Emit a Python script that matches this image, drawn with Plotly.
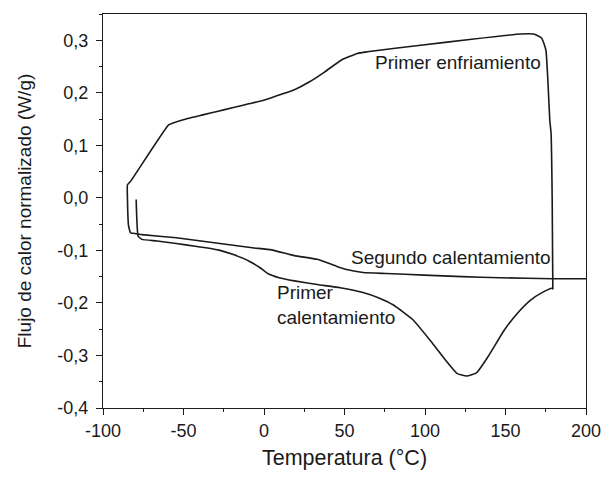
import plotly.graph_objects as go

# Primer calentamiento (first heating)
heat1_T = [-79.4, -79.0, -78.2, -75.8, -66.4, -54.5, -42.7, -28.5, -19.0, -9.5, -2.4, 2.3, 9.4, 18.9,
           33.1, 47.3, 61.5, 71.0, 80.4, 92.5, 104.7, 112.8, 119.8, 125.9, 132.0, 139.0, 149.2,
           157.3, 165.4, 173.5, 178.7, 179.4]
heat1_Q = [-0.003, -0.04, -0.073, -0.079, -0.082, -0.087, -0.092, -0.099, -0.108, -0.120, -0.133,
           -0.144, -0.152, -0.158, -0.165, -0.171, -0.180, -0.190, -0.204, -0.232, -0.277, -0.309,
           -0.334, -0.339, -0.333, -0.303, -0.252, -0.220, -0.195, -0.179, -0.172, -0.174]

# Primer enfriamiento (first cooling)
cool_T = [179.4, 179.0, 178.3, 177.5, 176.5, 175.1, 172.5, 167.4, 159.4, 129.0, 98.6, 64.1, 58.0,
          47.9, 37.8, 28.3, 18.9, 9.4, -0.1, -9.5, -19.0, -28.5, -38.0, -47.4, -56.9, -59.3, -83.0,
          -84.8, -84.8, -84.1, -83.0]
cool_Q = [-0.174, -0.003, 0.123, 0.148, 0.212, 0.281, 0.304, 0.312, 0.312, 0.302, 0.291, 0.278,
          0.275, 0.262, 0.240, 0.221, 0.206, 0.196, 0.186, 0.179, 0.172, 0.165, 0.158, 0.151, 0.142,
          0.139, 0.031, 0.025, -0.003, -0.054, -0.067]

# Segundo calentamiento (second heating)
heat2_T = [-83.0, -75.8, -54.5, -30.9, -7.2, 4.7, 18.9, 33.1, 44.9, 52.0, 61.5, 75.7, 99.4, 123.0,
           146.7, 179.4, 200.0]
heat2_Q = [-0.067, -0.070, -0.076, -0.0855, -0.095, -0.099, -0.110, -0.117, -0.130, -0.137, -0.142,
           -0.144, -0.147, -0.150, -0.152, -0.154, -0.154]

x_ticks = [-100, -50, 0, 50, 100, 150, 200]
x_ticklabels = ["-100", "-50", "0", "50", "100", "150", "200"]
y_ticks = [-0.4, -0.3, -0.2, -0.1, 0.0, 0.1, 0.2, 0.3]
y_ticklabels = ["-0,4", "-0,3", "-0,2", "-0,1", "0,0", "0,1", "0,2", "0,3"]

ink = "#1a1a1a"
line_style = dict(color=ink, width=1.6, shape="spline", smoothing=0.4)
fig = go.Figure()
for T, Q in [(heat1_T, heat1_Q), (cool_T, cool_Q), (heat2_T, heat2_Q)]:
    fig.add_trace(go.Scatter(x=T, y=Q, mode="lines", line=line_style, showlegend=False))

font = dict(family="Liberation Sans, Arial, sans-serif", color=ink)
fig.update_layout(
    width=613, height=478,
    margin=dict(l=103, r=16, t=14, b=70),
    paper_bgcolor="white", plot_bgcolor="white",
    font=dict(size=18, **font),
    annotations=[
        dict(x=120.5, y=0.258, text="Primer enfriamiento", showarrow=False,
             font=dict(size=19, **font)),
        dict(x=116, y=-0.114, text="Segundo calentamiento", showarrow=False,
             font=dict(size=19, **font)),
        dict(x=7.0, y=-0.204, text="Primer<br>calentamiento", showarrow=False,
             xanchor="left", align="left", font=dict(size=19, **font)),
    ],
)
fig.update_xaxes(
    range=[-100, 200], tickvals=x_ticks, ticktext=x_ticklabels,
    ticks="outside", ticklen=6, tickwidth=1.2, tickcolor=ink,
    minor=dict(dtick=25, ticks="outside", ticklen=3, tickwidth=1.2, tickcolor=ink),
    showline=True, linecolor=ink, linewidth=1.2, mirror=True,
    showgrid=False, zeroline=False,
    tickfont=dict(size=18, **font),
    title=dict(text="Temperatura (°C)", font=dict(size=21.5, **font), standoff=10),
)
fig.update_yaxes(
    range=[-0.4, 0.35], tickvals=y_ticks, ticktext=y_ticklabels,
    ticks="outside", ticklen=6, tickwidth=1.2, tickcolor=ink,
    ticklabelstandoff=4,
    minor=dict(dtick=0.05, tick0=0, ticks="outside", ticklen=3, tickwidth=1.2, tickcolor=ink),
    showline=True, linecolor=ink, linewidth=1.2, mirror=True,
    showgrid=False, zeroline=False,
    tickfont=dict(size=18, **font),
    title=dict(text="Flujo de calor normalizado (W/g)", font=dict(size=19, **font), standoff=20),
)
fig.write_html("out.html")
